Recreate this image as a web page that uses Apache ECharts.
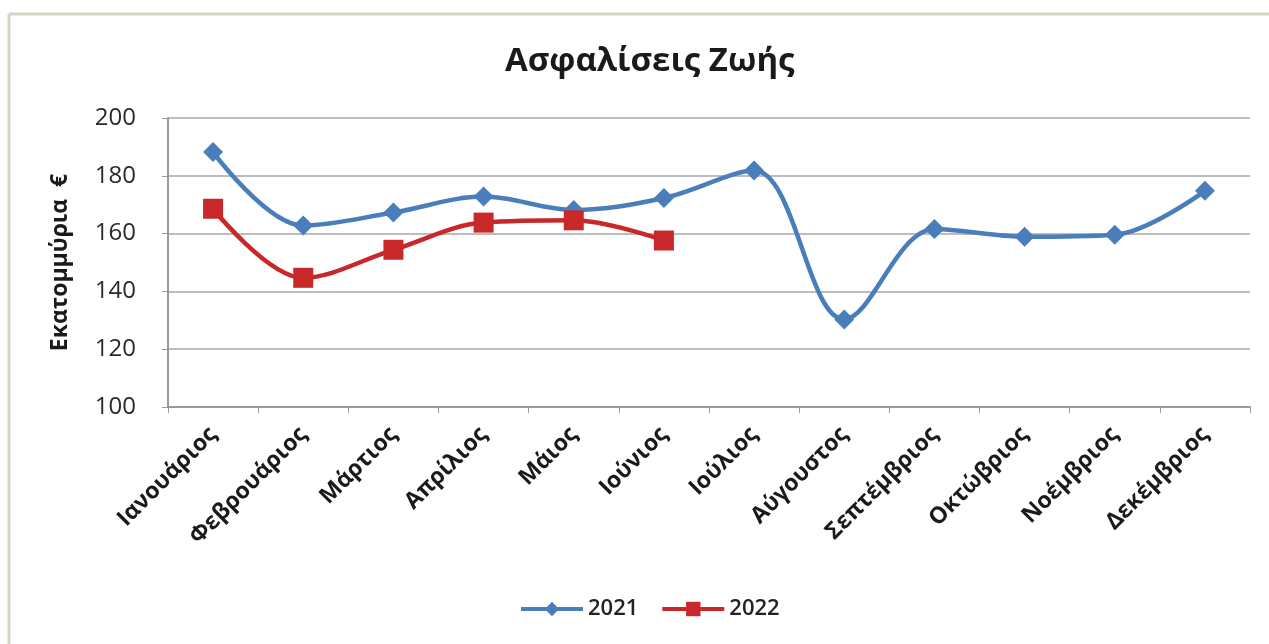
<!DOCTYPE html>
<html><head><meta charset="utf-8">
<script src="https://cdn.jsdelivr.net/npm/echarts@6/dist/echarts.min.js"></script>
<style>html,body{margin:0;padding:0;background:#fff}#c{width:1269px;height:644px}</style>
</head><body><div id="c"></div>
<script>
const categories = ['Ιανουάριος','Φεβρουάριος','Μάρτιος','Απρίλιος','Μάιος','Ιούνιος','Ιούλιος','Αύγουστος','Σεπτέμβριος','Οκτώβριος','Νοέμβριος','Δεκέμβριος'];
const values2021 = [188.2, 162.8, 167.3, 172.8, 168.2, 172.3, 181.8, 130.3, 161.6, 158.9, 159.6, 174.8];
const values2022 = [168.6, 144.7, 154.4, 163.8, 164.6, 157.6];
const yTicks = [100, 120, 140, 160, 180, 200];

const chart = echarts.init(document.getElementById('c'));
const FONT = '"Open Sans", "Noto Sans", sans-serif';
chart.setOption({
  animation: false,
  title: { text: 'Ασφαλίσεις Ζωής', left: 500, top: 40,
    textStyle: { fontFamily: FONT, fontSize: 33, fontWeight: 'bold', color: '#1a1a1a' } },
  grid: { left: 168, right: 19, top: 118, bottom: 237, containLabel: false },
  legend: { top: 593, left: 514, itemWidth: 62, itemHeight: 18, itemGap: 22,
    textStyle: { fontFamily: FONT, fontSize: 22, fontWeight: 600, color: '#222' },
    lineStyle: { width: 4 },
    data: ['2021', '2022'] },
  xAxis: { type: 'category', data: categories, boundaryGap: true,
    axisLine: { lineStyle: { color: '#9a9a9a', width: 2 } },
    axisTick: { show: true, length: 6, lineStyle: { color: '#9a9a9a' } },
    axisLabel: { rotate: 45, fontFamily: FONT, fontSize: 23, fontWeight: 'bold', color: '#1a1a1a', margin: 24, interval: 0 } },
  yAxis: { type: 'value', min: yTicks[0], max: yTicks[yTicks.length-1], interval: 20,
    name: 'Εκατομμύρια  €', nameLocation: 'middle', nameGap: 96, nameRotate: 90,
    nameTextStyle: { fontFamily: FONT, fontSize: 23, fontWeight: 'bold', color: '#1a1a1a' },
    axisLine: { show: true, lineStyle: { color: '#9a9a9a', width: 2 } },
    axisTick: { show: true, inside: false, length: 6, lineStyle: { color: '#9a9a9a' } },
    splitLine: { lineStyle: { color: '#bdbdbd', width: 2 } },
    axisLabel: { fontFamily: FONT, fontSize: 24, color: '#2a2a2a', margin: 32 } },
  series: [
    { name: '2021', type: 'line', data: values2021, smooth: 0.35,
      symbol: 'diamond', symbolSize: 20,
      lineStyle: { color: '#4a7ebb', width: 4.5 }, itemStyle: { color: '#4a7ebb' } },
    { name: '2022', type: 'line', data: values2022, smooth: 0.35,
      symbol: 'rect', symbolSize: 20,
      lineStyle: { color: '#c8282a', width: 4.5 }, itemStyle: { color: '#c8282a' } }
  ],
  graphic: [
    { type: 'line', shape: { x1: 9, y1: 14, x2: 1269, y2: 14 }, style: { stroke: '#d4d6c4', lineWidth: 3 } },
    { type: 'line', shape: { x1: 9, y1: 14, x2: 9, y2: 644 }, style: { stroke: '#d4d6c4', lineWidth: 3 } }
  ]
});
</script></body></html>
